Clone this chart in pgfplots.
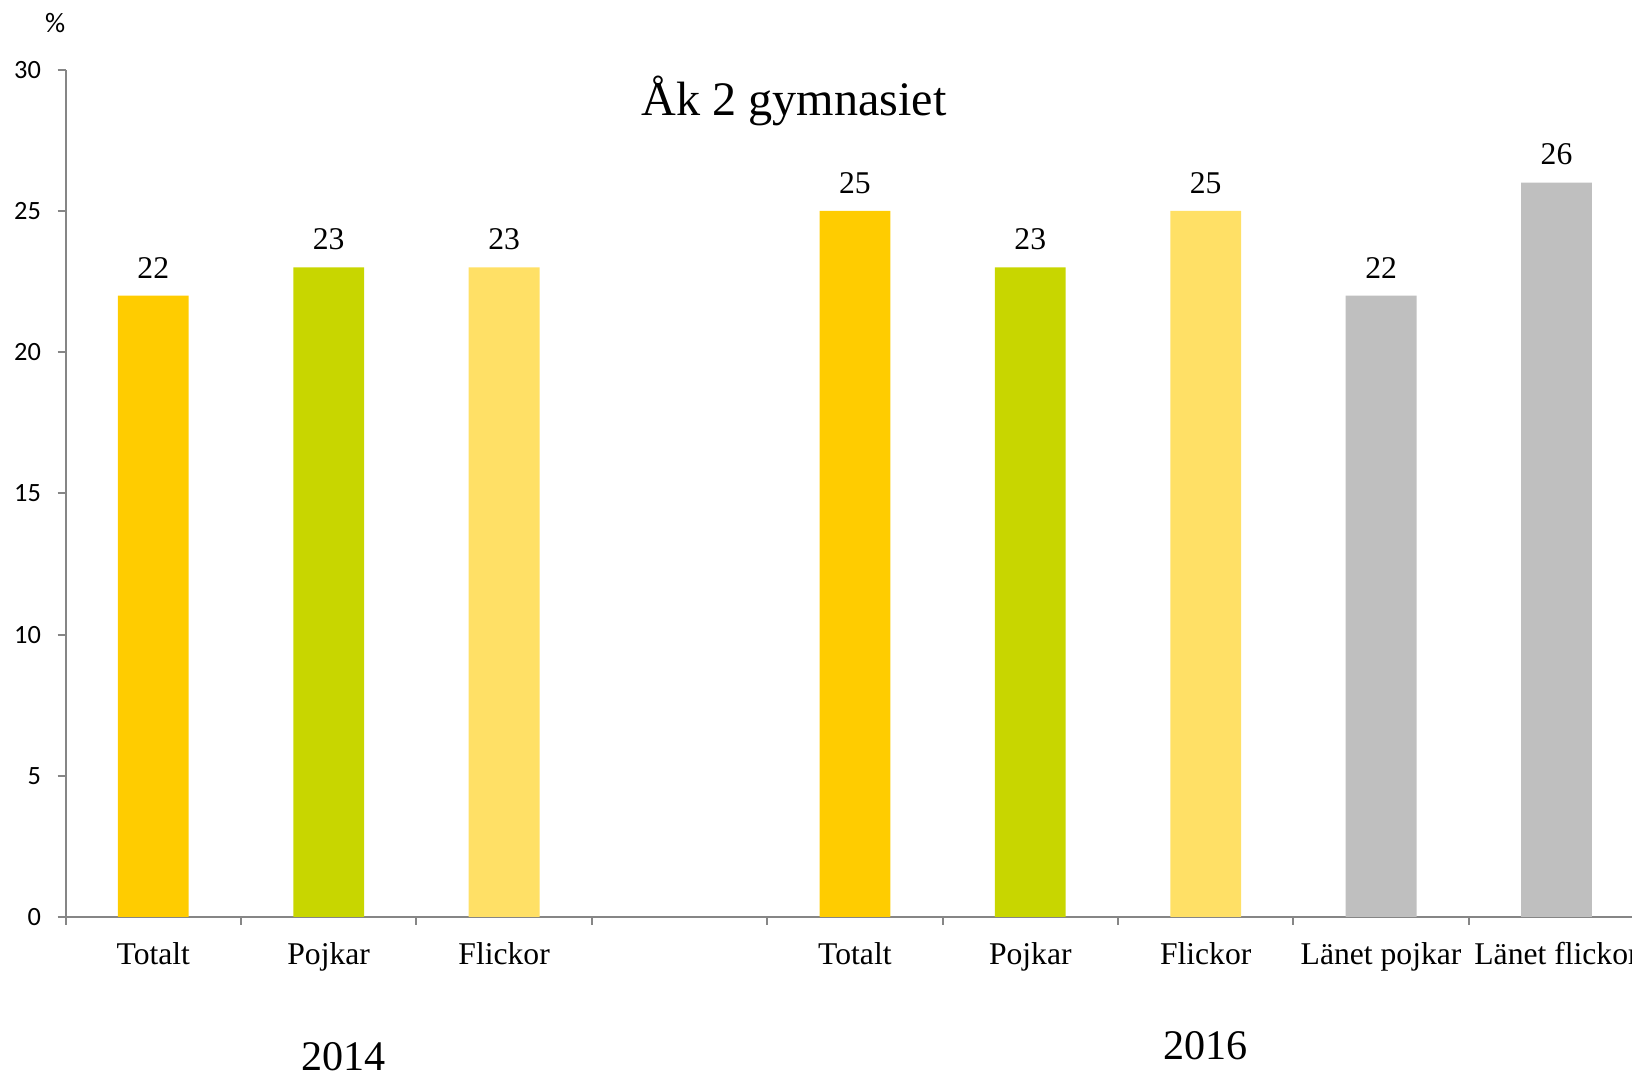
\documentclass[border=0pt]{standalone}
\usepackage{fontspec}
\setmainfont{Liberation Serif}
\newfontfamily\carlito{Carlito}
\usepackage{pgfplots}
\pgfplotsset{compat=1.18}
\definecolor{ctot}{RGB}{255,204,0}
\definecolor{cpoj}{RGB}{200,214,0}
\definecolor{cfli}{RGB}{255,224,102}
\definecolor{clan}{RGB}{191,191,191}
\definecolor{axgray}{RGB}{134,134,134}
\begin{document}
\begin{tikzpicture}
\begin{axis}[
  at={(0,0)}, anchor=south west,
  scale only axis, width=157.86mm, height=84.73mm,
  xmin=-0.5, xmax=8.5, ymin=0, ymax=30,
  axis x line*=bottom, axis y line*=left,
  axis line style={draw=axgray, line width=0.6pt},
  tick style={draw=axgray, line width=0.6pt},
  tick align=outside, major tick length=0.8mm,
  ytick={0,5,...,30},
  yticklabel style={font=\carlito\fontsize{7.5}{7.5}\selectfont, inner sep=0pt, anchor=east, xshift=-1.6mm},
  /pgf/number format/assume math mode=true,
  xtick={-0.5,0.5,...,8.5},
  x tick label as interval,
  xticklabels={Totalt,Pojkar,Flickor,,Totalt,Pojkar,Flickor,Länet pojkar,Länet flickor},
  xticklabel style={font=\fontsize{9}{9}\selectfont, inner sep=0pt, anchor=base, yshift=-3.97mm},
  ybar, bar width=7.08mm, bar shift=0pt,
  nodes near coords,
  every node near coord/.append style={font=\fontsize{9}{9}\selectfont, inner sep=0pt, anchor=south, yshift=1.67mm, black},
  clip=false,
]
\addplot[draw=none, fill=ctot] coordinates {(0,22) (4,25)};
\addplot[draw=none, fill=cpoj] coordinates {(1,23) (5,23)};
\addplot[draw=none, fill=cfli] coordinates {(2,23) (6,25)};
\addplot[draw=none, fill=clan] coordinates {(7,22) (8,26)};
\node[font=\fontsize{13.7}{13.7}\selectfont] at (axis cs:3.653,28.9) {Åk 2 gymnasiet};
\node[font=\carlito\fontsize{8}{8}\selectfont] at (axis cs:-0.56,31.66) {\%};
\node[font=\fontsize{12}{12}\selectfont] at (axis cs:1.084,-4.95) {2014};
\node[font=\fontsize{12}{12}\selectfont] at (axis cs:6.0,-4.55) {2016};
\end{axis}
\pgfresetboundingbox
\useasboundingbox (-6.56mm,-15.8mm) rectangle (156.64mm,91.7mm);
\end{tikzpicture}
\end{document}
